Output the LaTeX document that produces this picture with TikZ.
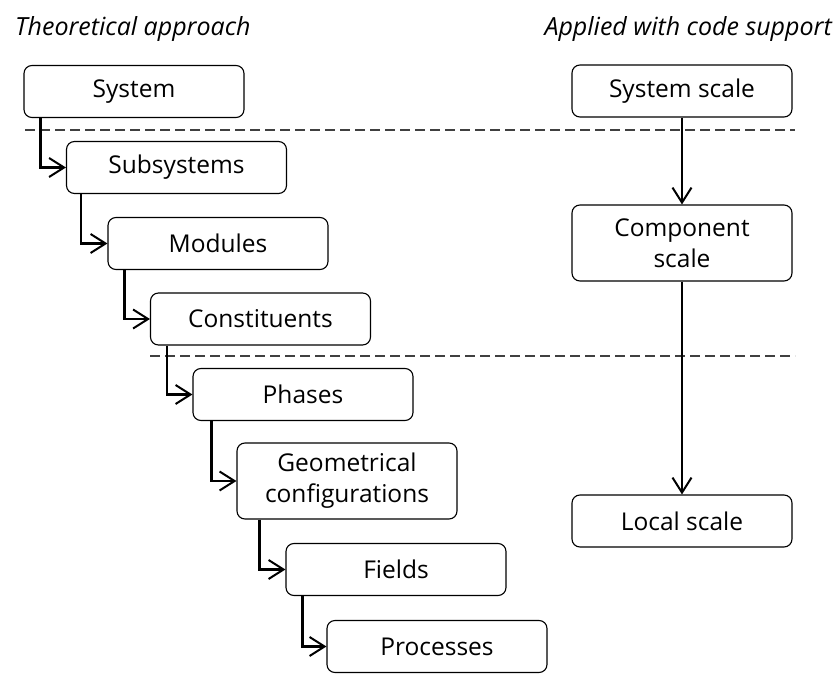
\documentclass[tikz,border=0pt]{standalone}
\usepackage{fontspec}
\setmainfont{Open Sans}
\usetikzlibrary{arrows.meta,calc}
\begin{document}
\begin{tikzpicture}[x=1pt,y=-1pt,
  box/.style={draw, line width=1.1pt, rounded corners=8pt, minimum width=220pt, minimum height=52pt,
    inner sep=0pt, align=center, font=\fontsize{24.5}{31}\selectfont},
  tall/.style={minimum height=76pt},
  conn/.style={line width=2.5pt, -{Straight Barb[length=15pt,width=19pt,line width=2pt]}},
  sep/.style={line width=1.2pt, black!75, dash pattern=on 10pt off 5pt},
  title/.style={font=\fontsize{25}{30}\selectfont\itshape, inner sep=0pt}]
\useasboundingbox (0,0) rectangle (836,680);
% titles
\node[title, anchor=base west] (t1) at (15,35) {Theoretical approach};
\node[title, anchor=base east] (t2) at (832,35) {Applied with code support};
% separators
\coordinate (d1a) at (25,130); \coordinate (d1b) at (795,130);
\coordinate (d2a) at (150,356); \coordinate (d2b) at (795,356);
\draw[sep] (d1a) -- (d1b);
\draw[sep] (d2a) -- (d2b);
% left column
\node[box] (sys) at (134,91.5) {System};
\node[box] (sub) at (176.5,167.5) {Subsystems};
\node[box] (mod) at (218,243.5) {Modules};
\node[box] (con) at (260.5,319) {Constituents};
\node[box] (pha) at (303,394.5) {Phases};
\node[box, tall] (geo) at (347,481) {Geometrical\\configurations};
\node[box] (fie) at (396,569.5) {Fields};
\node[box] (pro) at (437,646.5) {Processes};
\draw[conn] (sys.south west) ++(17pt,0) |- (sub.west);
\draw[conn] (sub.south west) ++(15pt,0) |- (mod.west);
\draw[conn] (mod.south west) ++(17pt,0) |- (con.west);
\draw[conn] (con.south west) ++(17pt,0) |- (pha.west);
\draw[conn] (pha.south west) ++(19pt,0) |- (geo.west);
\draw[conn] (geo.south west) ++(23pt,0) |- (fie.west);
\draw[conn] (fie.south west) ++(17pt,0) |- (pro.west);
% right column
\node[box] (ss) at (682,91) {System scale};
\node[box, tall] (cs) at (682,243) {Component\\scale};
\node[box] (ls) at (682,521) {Local scale};
\draw[conn] (ss) -- (cs);
\draw[conn] (cs) -- (ls);
\end{tikzpicture}
\end{document}
